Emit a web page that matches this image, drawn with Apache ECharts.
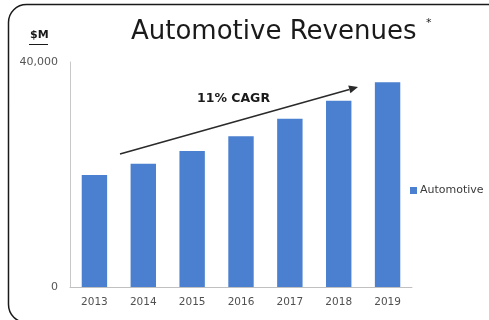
<!DOCTYPE html>
<html>
<head>
<meta charset="utf-8">
<script src="https://cdn.jsdelivr.net/npm/echarts@6/dist/echarts.min.js"></script>
<style>
  html, body { margin: 0; padding: 0; background: #fff; }
  #chart { width: 489px; height: 320px; }
</style>
</head>
<body>
<div id="chart"></div>
<script>
// Annual automotive revenues, $M
const years = ['2013', '2014', '2015', '2016', '2017', '2018', '2019'];
const automotive = [19900, 21900, 24200, 26800, 29900, 33100, 36400];
const yTicks = [0, 40000];
const seriesName = 'Automotive';

const FONT = '"DejaVu Sans", "Open Sans", sans-serif';
const chart = echarts.init(document.getElementById('chart'));

// CAGR arrow geometry (annotation, pixel space)
const arrowFrom = [120, 154];
const arrowTo = [358, 87];
const ang = Math.atan2(arrowTo[1] - arrowFrom[1], arrowTo[0] - arrowFrom[0]);
const headLen = 9, headHalf = 4;
const back = [arrowTo[0] - headLen * Math.cos(ang), arrowTo[1] - headLen * Math.sin(ang)];
const head = [
  arrowTo,
  [back[0] + headHalf * Math.sin(ang), back[1] - headHalf * Math.cos(ang)],
  [back[0] - headHalf * Math.sin(ang), back[1] + headHalf * Math.cos(ang)]
];

chart.setOption({
  animation: false,
  backgroundColor: '#ffffff',
  grid: { left: 70, right: 77, top: 62, bottom: 33 },
  legend: {
    data: [seriesName],
    orient: 'vertical',
    left: 405,
    top: 180,
    itemWidth: 7,
    itemHeight: 7,
    itemGap: 4,
    icon: 'rect',
    textStyle: { color: '#3a3a3a', fontSize: 11, fontFamily: FONT, padding: [0, 0, 0, -2] }
  },
  xAxis: {
    type: 'category',
    data: years,
    axisLine: { lineStyle: { color: '#c0c0c0', width: 1 } },
    axisTick: { show: false },
    axisLabel: { color: '#505050', fontSize: 10.5, margin: 10, fontFamily: FONT }
  },
  yAxis: {
    type: 'value',
    min: yTicks[0],
    max: yTicks[yTicks.length - 1],
    interval: yTicks[1] - yTicks[0],
    splitLine: { show: false },
    axisLine: { show: true, lineStyle: { color: '#c8c8c8', width: 1 } },
    axisTick: { show: false },
    axisLabel: {
      color: '#555555', fontSize: 11, margin: 12,
      fontFamily: FONT,
      formatter: v => v.toLocaleString('en-US')
    }
  },
  series: [{
    name: seriesName,
    type: 'bar',
    data: automotive,
    barWidth: '52%',
    itemStyle: { color: '#4a80cf' }
  }],
  graphic: [
    {
      type: 'rect',
      shape: { x: 8.5, y: 4.5, width: 520, height: 318, r: 18 },
      style: { fill: 'none', stroke: '#1a1a1a', lineWidth: 1.5 },
      silent: true
    },
    {
      type: 'text',
      left: 131, top: 19,
      style: { text: 'Automotive Revenues', fill: '#1a1a1a', fontSize: 26, fontFamily: FONT }
    },
    {
      type: 'text',
      left: 426, top: 18,
      style: { text: '*', fill: '#1a1a1a', fontSize: 11, fontFamily: FONT }
    },
    {
      type: 'text',
      left: 30, top: 30,
      style: { text: '$M', fill: '#1a1a1a', fontSize: 11, fontWeight: 'bold', fontFamily: FONT }
    },
    {
      type: 'line',
      shape: { x1: 29, y1: 44.5, x2: 48, y2: 44.5 },
      style: { stroke: '#1a1a1a', lineWidth: 1 }
    },
    {
      type: 'text',
      left: 197, top: 92,
      style: { text: '11% CAGR', fill: '#1a1a1a', fontSize: 12.5, fontWeight: 'bold', fontFamily: FONT }
    },
    {
      type: 'line',
      shape: { x1: arrowFrom[0], y1: arrowFrom[1], x2: back[0], y2: back[1] },
      style: { stroke: '#2a2a2a', lineWidth: 1.6 }
    },
    {
      type: 'polygon',
      shape: { points: head },
      style: { fill: '#2a2a2a' }
    }
  ]
});
</script>
</body>
</html>
